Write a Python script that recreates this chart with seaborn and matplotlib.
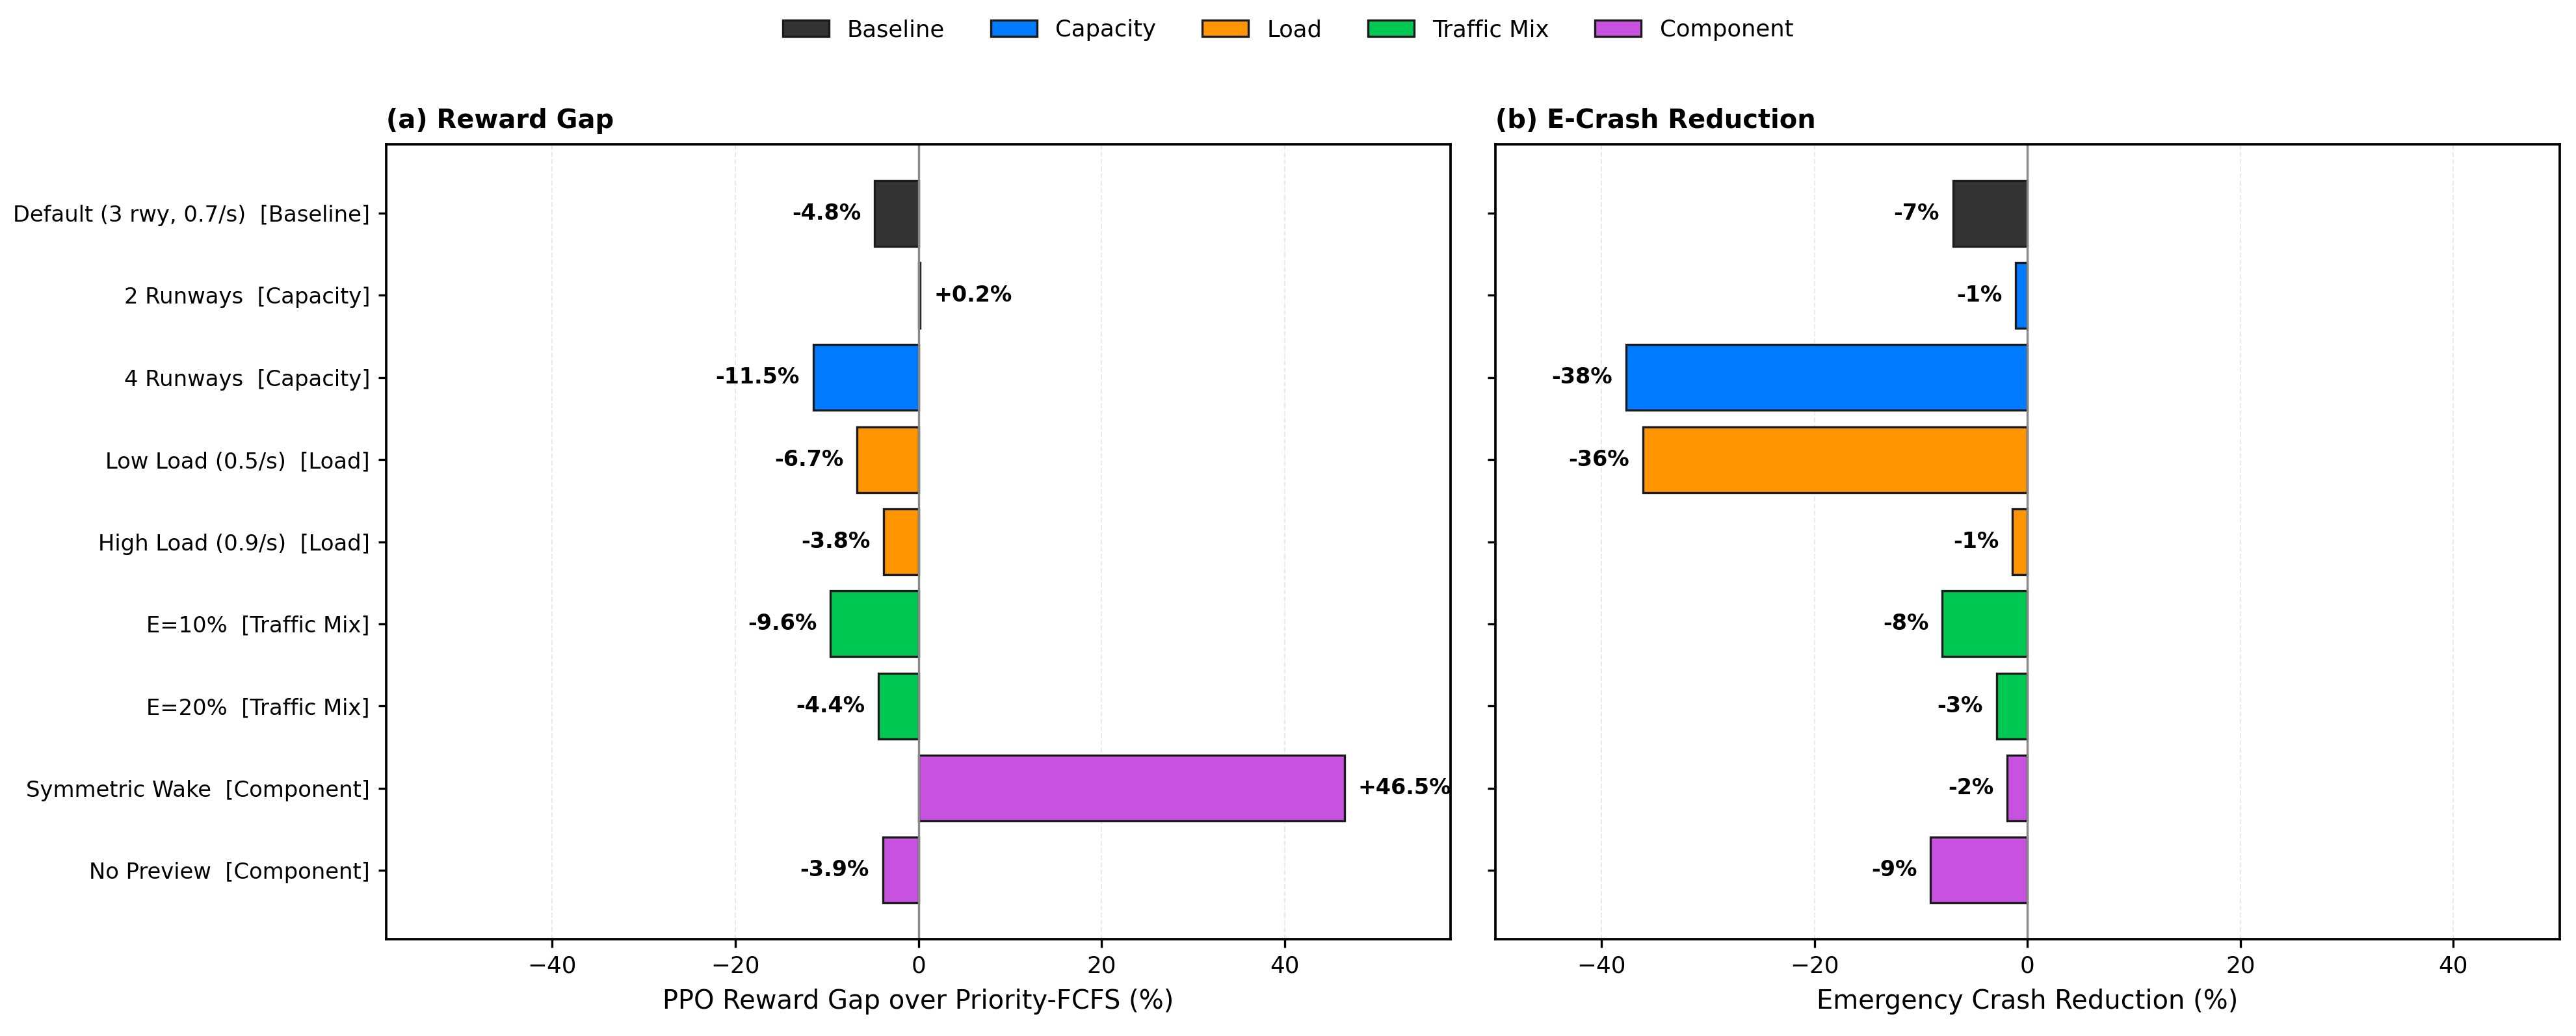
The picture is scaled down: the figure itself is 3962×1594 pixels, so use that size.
import matplotlib
matplotlib.use("Agg")
import matplotlib.pyplot as plt
import seaborn as sns
import pandas as pd
from matplotlib.patches import Patch

# ---- data ----
scenarios = [
    "Default (3 rwy, 0.7/s)  [Baseline]",
    "2 Runways  [Capacity]",
    "4 Runways  [Capacity]",
    "Low Load (0.5/s)  [Load]",
    "High Load (0.9/s)  [Load]",
    "E=10%  [Traffic Mix]",
    "E=20%  [Traffic Mix]",
    "Symmetric Wake  [Component]",
    "No Preview  [Component]",
]
groups = ["Baseline", "Capacity", "Capacity", "Load", "Load",
          "Traffic Mix", "Traffic Mix", "Component", "Component"]
reward_gap = [-4.8, 0.2, -11.5, -6.7, -3.8, -9.6, -4.4, 46.5, -3.9]
crash_reduction = [-7.0, -1.1, -37.7, -36.1, -1.4, -8.0, -2.9, -1.9, -9.1]
group_order = ["Baseline", "Capacity", "Load", "Traffic Mix", "Component"]
group_colors = ["#333333", "#007AFF", "#FF9500", "#00C853", "#C852E0"]

palette = dict(zip(group_order, group_colors))
df = pd.DataFrame({"scenario": scenarios, "group": groups,
                   "reward": reward_gap, "crash": crash_reduction})

sns.set_theme(style="white")
plt.rcParams["font.family"] = ["DejaVu Sans"]
plt.rcParams["text.color"] = "black"
plt.rcParams["axes.labelcolor"] = "black"
plt.rcParams["xtick.color"] = "black"
plt.rcParams["ytick.color"] = "black"

fig, axes = plt.subplots(1, 2, figsize=(3962 / 300, 1594 / 300), dpi=300, sharey=True)
fig.subplots_adjust(left=0.1499, right=0.9937, top=0.8607, bottom=0.0935, wspace=0.0416)

panels = [
    (axes[0], "reward", "(a) Reward Gap", "PPO Reward Gap over Priority-FCFS (%)", 58.125, "{:+.1f}%"),
    (axes[1], "crash", "(b) E-Crash Reduction", "Emergency Crash Reduction (%)", 50, "{:+.0f}%"),
]

for ax, col, title, xlabel, lim, fmt in panels:
    sns.barplot(data=df, y="scenario", x=col, hue="group", hue_order=group_order,
                palette=palette, dodge=False, saturation=1, width=0.8,
                edgecolor="#1a1a1a", linewidth=0.8, legend=False, ax=ax, orient="h")
    ax.axvline(0, color="#888888", linewidth=0.8, zorder=1)
    ax.set_xlim(-lim, lim)
    ax.set_ylim(len(scenarios) - 1 + 0.84, -0.84)
    ax.set_xticks([-40, -20, 0, 20, 40])
    ax.grid(axis="x", linestyle="--", color="#dddddd", linewidth=0.5, alpha=0.6)
    ax.set_axisbelow(True)
    ax.set_title(title, loc="left", fontsize=9.6, fontweight="bold", pad=6, color="black")
    ax.set_xlabel(xlabel, fontsize=9.6, color="black")
    ax.set_ylabel("")
    ax.tick_params(axis="both", which="both", length=3, width=0.8, labelsize=8.6,
                   bottom=True, left=True, color="black", labelcolor="black", pad=3)
    ax.tick_params(axis="y", labelsize=8.1)
    for s in ax.spines.values():
        s.set_visible(True)
        s.set_color("black")
        s.set_linewidth(0.9)
    for i, v in enumerate(df[col]):
        ax.annotate(fmt.format(v), xy=(v, i), xytext=(5 if v >= 0 else -5, 0),
                    textcoords="offset points", ha="left" if v >= 0 else "right",
                    va="center", fontsize=8, fontweight="bold", color="black")

axes[1].tick_params(axis="y", labelleft=False)

handles = [Patch(facecolor=c, edgecolor="#1a1a1a", linewidth=0.8, label=g)
           for g, c in zip(group_order, group_colors)]
fig.legend(handles=handles, loc="center", bbox_to_anchor=(0.5, 0.971), ncol=5,
           frameon=False, fontsize=8.5, handlelength=2.0, columnspacing=2.0,
           labelcolor="black")

fig.savefig("out.png", dpi=300)
